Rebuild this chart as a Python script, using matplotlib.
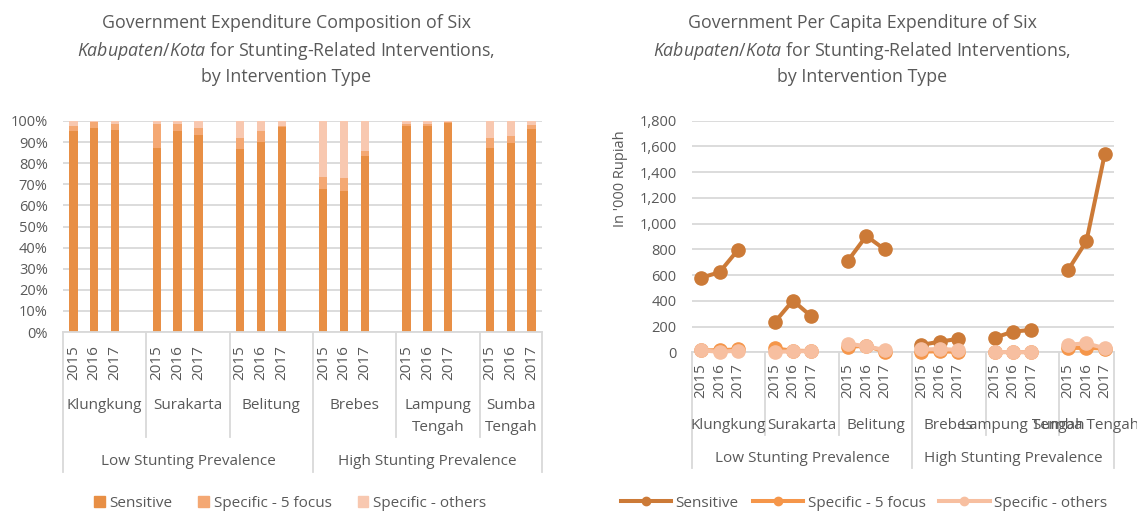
import matplotlib
matplotlib.use('Agg')
import matplotlib.pyplot as plt
from matplotlib.transforms import blended_transform_factory
from matplotlib.lines import Line2D
from matplotlib.patches import Patch
from matplotlib.ticker import FuncFormatter, MultipleLocator

# Lienzo
W, H = 1137, 511
DPI = 100

TEXT_COLOR = '#595959'
GRID_COLOR = '#D9D9D9'

plt.rcParams['font.family'] = ['Open Sans', 'DejaVu Sans']
plt.rcParams['mathtext.fontset'] = 'custom'
plt.rcParams['mathtext.rm'] = 'Open Sans'
plt.rcParams['mathtext.it'] = 'Open Sans:italic'
plt.rcParams['text.color'] = TEXT_COLOR

# Datos
regions = ['Klungkung', 'Surakarta', 'Belitung', 'Brebes', 'Lampung Tengah', 'Sumba Tengah']
years = ['2015', '2016', '2017']
prevalence = ['Low Stunting Prevalence', 'High Stunting Prevalence']
series = ['Sensitive', 'Specific - 5 focus', 'Specific - others']

# Composición (%) por región y año
share_sensitive = [95.3, 96.7, 95.7, 87.2, 95.3, 93.2, 86.8, 90.1, 97.3,
                   67.9, 66.6, 83.5, 97.8, 97.8, 99.2, 87.2, 89.4, 96.2]
share_focus = [2.3, 2.7, 2.7, 11.2, 3.1, 3.3, 5.0, 5.2, 0.5,
               5.6, 6.3, 2.3, 0.8, 0.6, 0.3, 4.6, 3.5, 1.8]
share_others = [2.4, 0.6, 1.6, 1.6, 1.6, 3.5, 8.2, 4.7, 2.2,
                26.5, 27.1, 14.2, 1.4, 1.6, 0.5, 8.2, 7.1, 2.0]

# Gasto per cápita (miles de rupias)
pc_sensitive = [580, 622, 795, 233, 402, 280, 712, 904, 800,
                57, 83, 104, 114, 161, 174, 640, 865, 1544]
pc_focus = [14, 17, 22, 30, 13, 10, 41, 52, 4,
            5, 8, 3, 1, 2, 1, 34, 34, 29]
pc_others = [15, 4, 13, 4, 7, 10, 67, 47, 18,
             22, 25, 20, 2, 2, 1, 60, 69, 32]

BAR_COLORS = ['#E88F45', '#F4A873', '#F8C8B0']
LINE_COLORS = ['#CC7A37', '#F5964A', '#F7BFA0']

N_Y = len(years)
SLOT = N_Y + 1  # hueco vacío entre grupos
x_pos = [g * SLOT + j for g in range(len(regions)) for j in range(N_Y)]
x_max = (len(regions) - 1) * SLOT + N_Y - 0.5

TITLE_MID = r'$\it{Kabupaten{/}Kota}$ for Stunting-Related Interventions,'


def px_y(py):
    return 1 - py / H


def box(x0, y0, x1, y1):
    return [x0 / W, 1 - y1 / H, (x1 - x0) / W, (y1 - y0) / H]


def category_axis(ax, fig, year_top, name_y, inner_end, outer_end, level2_y,
                  wrap, axis_y):
    tr = blended_transform_factory(ax.transData, fig.transFigure)
    for x, j in zip(x_pos, [j for _ in regions for j in range(N_Y)]):
        ax.text(x, px_y(year_top), years[j], transform=tr, rotation=90,
                ha='center', va='top', fontsize=11, color=TEXT_COLOR)
    for g, name in enumerate(regions):
        start = g * SLOT - 0.5
        end = min(start + SLOT, x_max)
        cx = (start + end) / 2
        if wrap and ' ' in name:
            a, b = name.split(' ')
            ax.text(cx, px_y(name_y), a, transform=tr, ha='center', va='center',
                    fontsize=11, color=TEXT_COLOR)
            ax.text(cx, px_y(name_y + 22), b, transform=tr, ha='center',
                    va='center', fontsize=11, color=TEXT_COLOR)
        else:
            ax.text(cx, px_y(name_y), name, transform=tr, ha='center',
                    va='center', fontsize=11, color=TEXT_COLOR)
    half = 3 * SLOT - 0.5
    bounds = [g * SLOT - 0.5 for g in range(len(regions))] + [x_max]
    for b in bounds:
        outer = b in (-0.5, half, x_max)
        end = outer_end if outer else inner_end
        ax.add_line(Line2D([b, b], [px_y(axis_y), px_y(end)], transform=tr,
                           color=GRID_COLOR, lw=1.3, clip_on=False))
    for k, label in enumerate(prevalence):
        cx = (-0.5 + half) / 2 if k == 0 else (half + x_max) / 2
        ax.text(cx, px_y(level2_y), label, transform=tr, ha='center',
                va='center', fontsize=11, color=TEXT_COLOR)


def style_axes(ax):
    for s in ['top', 'right', 'left']:
        ax.spines[s].set_visible(False)
    ax.spines['bottom'].set_color(GRID_COLOR)
    ax.spines['bottom'].set_linewidth(1.3)
    ax.grid(axis='y', color=GRID_COLOR, lw=1.3)
    ax.set_axisbelow(True)
    ax.tick_params(axis='y', length=0, pad=11, labelsize=10.5,
                   labelcolor=TEXT_COLOR)
    ax.set_xticks([])
    ax.set_xlim(-0.5, x_max)


fig = plt.figure(figsize=(W / DPI, H / DPI), dpi=DPI)

# Panel izquierdo: barras apiladas
ax1 = fig.add_axes(box(63, 121, 542, 332))
bottom2 = [a + b for a, b in zip(share_sensitive, share_focus)]
ax1.bar(x_pos, share_sensitive, width=0.4, color=BAR_COLORS[0])
ax1.bar(x_pos, share_focus, width=0.4, bottom=share_sensitive,
        color=BAR_COLORS[1])
ax1.bar(x_pos, share_others, width=0.4, bottom=bottom2, color=BAR_COLORS[2])
ax1.set_ylim(0, 100)
ax1.yaxis.set_major_locator(MultipleLocator(10))
ax1.yaxis.set_major_formatter(FuncFormatter(lambda v, p: f'{v:.0f}%'))
style_axes(ax1)
category_axis(ax1, fig, 345, 405, 437, 472, 461, True, 332)

fig.text(286 / W, px_y(50), 'Government Expenditure Composition of Six\n'
         + TITLE_MID + '\nby Intervention Type', ha='center', va='center',
         fontsize=12.8, color=TEXT_COLOR, linespacing=1.5)

handles1 = [Patch(color=c, label=s) for c, s in zip(BAR_COLORS, series)]
fig.legend(handles=handles1, loc='center', bbox_to_anchor=(290 / W, px_y(503)),
           ncol=3, frameon=False, fontsize=11, handlelength=0.7,
           handleheight=0.7, handletextpad=0.3, columnspacing=1.7,
           labelcolor=TEXT_COLOR)

# Panel derecho: líneas per cápita
ax2 = fig.add_axes(box(692, 120.7, 1114, 352.3))
for vals, color, z in zip([pc_sensitive, pc_focus, pc_others], LINE_COLORS,
                          [2, 3, 4]):
    for g in range(len(regions)):
        xs = x_pos[g * N_Y:(g + 1) * N_Y]
        ys = vals[g * N_Y:(g + 1) * N_Y]
        ax2.plot(xs, ys, color=color, lw=2.9, marker='o', markersize=9.5,
                 zorder=z, clip_on=False)
ax2.set_ylim(0, 1800)
ax2.yaxis.set_major_locator(MultipleLocator(200))
ax2.yaxis.set_major_formatter(FuncFormatter(lambda v, p: f'{v:,.0f}'))
style_axes(ax2)
category_axis(ax2, fig, 363, 425, 435, 468, 458, False, 352.3)

fig.text(620 / W, px_y(179), "In '000 Rupiah", rotation=90, ha='center',
         va='center', fontsize=10.5, color=TEXT_COLOR)

fig.text(862 / W, px_y(50), 'Government Per Capita Expenditure of Six\n'
         + TITLE_MID + '\nby Intervention Type', ha='center', va='center',
         fontsize=12.8, color=TEXT_COLOR, linespacing=1.5)

handles2 = [Line2D([], [], color=c, lw=2.9, marker='o', markersize=6, label=s)
            for c, s in zip(LINE_COLORS, series)]
fig.legend(handles=handles2, loc='center', bbox_to_anchor=(864 / W, px_y(503)),
           ncol=3, frameon=False, fontsize=11, handlelength=3.3,
           handletextpad=0.3, columnspacing=0.9, labelcolor=TEXT_COLOR)

fig.savefig('out.png', dpi=DPI, facecolor='white')
